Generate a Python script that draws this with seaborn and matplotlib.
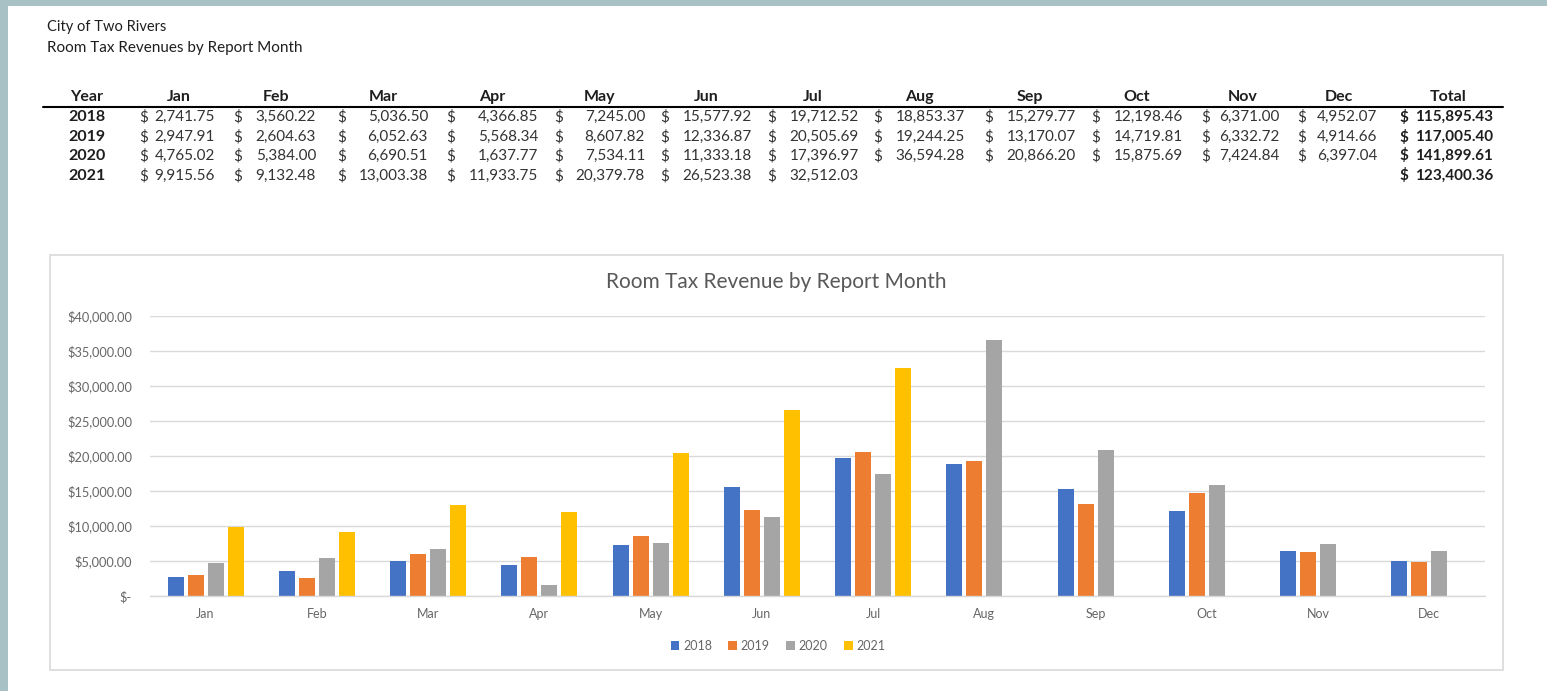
import numpy as np
import pandas as pd
import matplotlib
matplotlib.use("Agg")
import matplotlib.pyplot as plt
from matplotlib.patches import Rectangle, Patch
from matplotlib.lines import Line2D
import seaborn as sns

# ---------------- data ----------------
months = ["Jan", "Feb", "Mar", "Apr", "May", "Jun", "Jul", "Aug", "Sep", "Oct", "Nov", "Dec"]
years = ["2018", "2019", "2020", "2021"]
rev_2018 = [2741.75, 3560.22, 5036.50, 4366.85, 7245.00, 15577.92, 19712.52, 18853.37, 15279.77, 12198.46, 6371.00, 4952.07]
rev_2019 = [2947.91, 2604.63, 6052.63, 5568.34, 8607.82, 12336.87, 20505.69, 19244.25, 13170.07, 14719.81, 6332.72, 4914.66]
rev_2020 = [4765.02, 5384.00, 6690.51, 1637.77, 7534.11, 11333.18, 17396.97, 36594.28, 20866.20, 15875.69, 7424.84, 6397.04]
rev_2021 = [9915.56, 9132.48, 13003.38, 11933.75, 20379.78, 26523.38, 32512.03, None, None, None, None, None]
totals = [115895.43, 117005.40, 141899.61, 123400.36]
ytick_vals = [0, 5000, 10000, 15000, 20000, 25000, 30000, 35000, 40000]
colors = ["#4472C4", "#ED7D31", "#A5A5A5", "#FFC000"]

series = {"2018": rev_2018, "2019": rev_2019, "2020": rev_2020, "2021": rev_2021}
rows = []
for y in years:
    for m, v in zip(months, series[y]):
        rows.append({"Month": m, "Year": y, "Revenue": np.nan if v is None else v})
df = pd.DataFrame(rows)

# ---------------- figure ----------------
sns.set_theme(style="white")
plt.rcParams["font.family"] = ["Lato", "DejaVu Sans"]

W, H = 1547, 691
fig = plt.figure(figsize=(W / 100, H / 100), dpi=100)
fig.patch.set_facecolor("white")

def fx(px):
    return px / W

def fy(py):
    return 1 - py / H

# frame strips
frame_col = "#a8c1c4"
fig.add_artist(Rectangle((0, 0), fx(8), 1, transform=fig.transFigure, color=frame_col, lw=0, zorder=0))
fig.add_artist(Rectangle((0, fy(6)), 1, 6 / H, transform=fig.transFigure, color=frame_col, lw=0, zorder=0))

# ---------------- table ----------------
txt_col = "#1e1e1e"
val_col = "#333333"
fig.text(fx(47), fy(27), "City of Two Rivers", fontsize=10.5, color=txt_col, va="center", ha="left")
fig.text(fx(47), fy(48), "Room Tax Revenues by Report Month", fontsize=11, color=txt_col, va="center", ha="left")

headers = months + ["Total"]
hdr_x = [179, 276, 383, 492, 600, 706, 813, 919, 1030, 1137, 1243, 1339, 1448]
dollar_x = [139, 233, 337, 446, 554, 660, 767, 873, 984, 1091, 1201, 1297, 1399]
end_x = [215, 316, 428, 538, 645, 752, 859, 965, 1076, 1183, 1280, 1377, 1493]
hdr_y = 97
row_y = [117, 137, 156, 176]
hfs = 11.5
vfs = 11

fig.text(fx(87), fy(hdr_y), "Year", fontsize=hfs, fontweight="bold", ha="center", va="center", color=txt_col)
for i, h in enumerate(headers):
    fig.text(fx(hdr_x[i]), fy(hdr_y), h, fontsize=hfs, fontweight="bold", ha="center", va="center", color=txt_col)
fig.add_artist(Line2D([fx(43), fx(1503)], [fy(107), fy(107)], transform=fig.transFigure, color="black", lw=1.5))

for r, y in enumerate(years):
    yy = fy(row_y[r])
    fig.text(fx(87), yy, y, fontsize=hfs, fontweight="bold", ha="center", va="center", color=txt_col)
    vals = series[y]
    for i, v in enumerate(vals):
        if v is None:
            continue
        fig.text(fx(dollar_x[i]), yy, "$", fontsize=vfs, ha="left", va="center", color=val_col)
        fig.text(fx(end_x[i]), yy, f"{v:,.2f}", fontsize=vfs, ha="right", va="center", color=val_col)
    fig.text(fx(dollar_x[12]), yy, "$", fontsize=vfs, fontweight="bold", ha="left", va="center", color=txt_col)
    fig.text(fx(end_x[12]), yy, f"{totals[r]:,.2f}", fontsize=vfs, fontweight="bold", ha="right", va="center", color=txt_col)

# ---------------- chart box ----------------
fig.add_artist(Rectangle((fx(50), fy(670)), fx(1503) - fx(50), fy(255) - fy(670),
                         transform=fig.transFigure, fill=False, edgecolor="#d9d9d9", lw=1.2, zorder=1))
fig.text(fx(776), fy(282), "Room Tax Revenue by Report Month", fontsize=15, color="#595959",
         ha="center", va="center")

ax = fig.add_axes([fx(150), fy(596), fx(1485) - fx(150), fy(316) - fy(596)])
sns.barplot(data=df, x="Month", y="Revenue", hue="Year", order=months, hue_order=years,
            palette=colors, width=0.72, gap=0.2, errorbar=None, legend=False, ax=ax,
            saturation=1, linewidth=0)
ax.set_xlim(-0.5, 11.5)
ax.set_ylim(0, 40000)
ax.set_yticks(ytick_vals)
ax.set_yticklabels(["$-"] + [f"${v:,.2f}" for v in ytick_vals[1:]])
ax.set_xlabel("")
ax.set_ylabel("")
ax.yaxis.grid(True, color="#d9d9d9", lw=1)
ax.set_axisbelow(True)
for s in ["top", "right", "left"]:
    ax.spines[s].set_visible(False)
ax.spines["bottom"].set_color("#d9d9d9")
ax.spines["bottom"].set_linewidth(1)
ax.tick_params(axis="both", length=0, labelsize=9, labelcolor="#666666")
ax.tick_params(axis="y", labelsize=9.2, pad=13)
ax.tick_params(axis="x", pad=9)

handles = [Patch(facecolor=c, edgecolor="none", label=y) for c, y in zip(colors, years)]
fig.legend(handles=handles, loc="center", bbox_to_anchor=(fx(778), fy(646)), ncol=4, frameon=False,
           fontsize=9, labelcolor="#666666", handlelength=0.7, handleheight=0.7,
           handletextpad=0.3, columnspacing=1.3)

fig.savefig("out.png", dpi=100, facecolor="white")
